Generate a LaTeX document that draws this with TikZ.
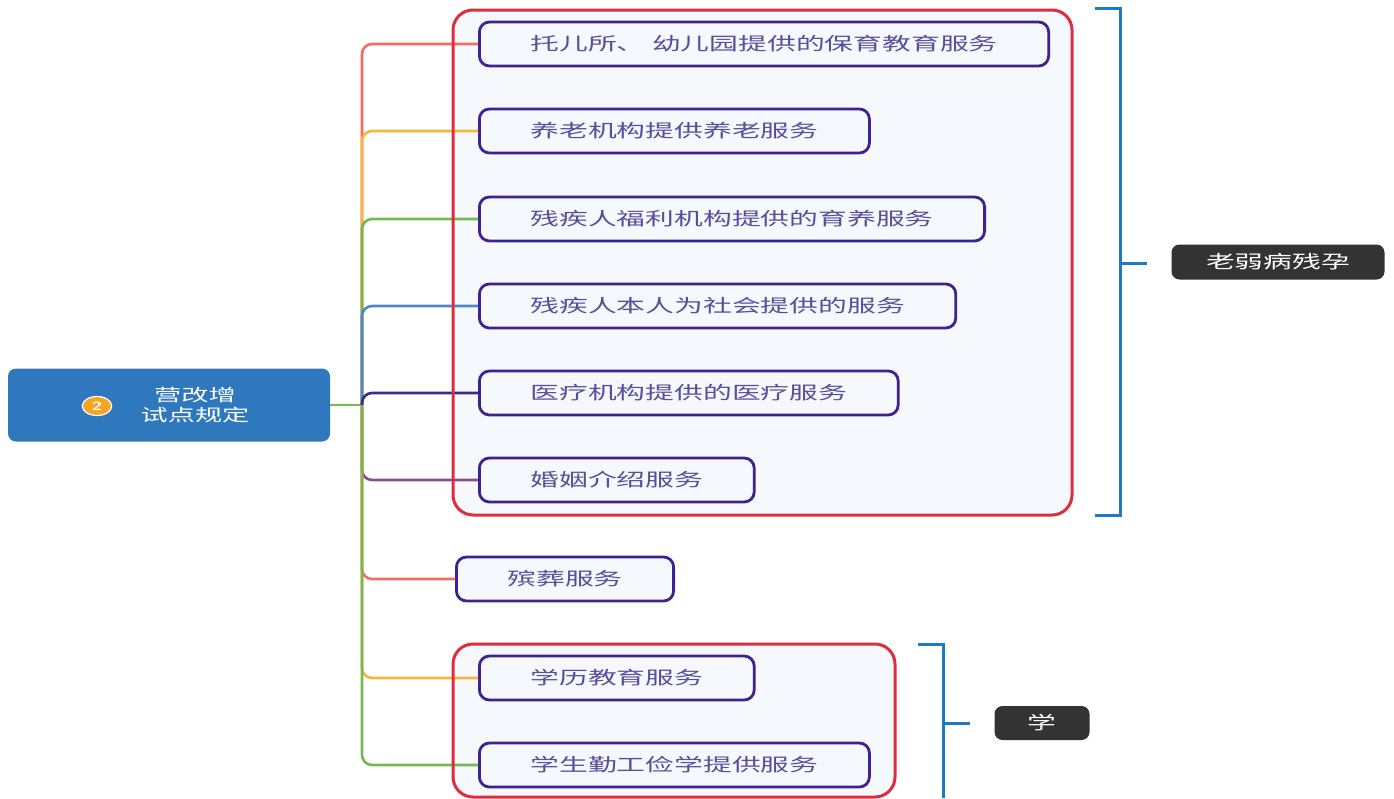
\documentclass[tikz,border=0pt]{standalone}
\usepackage{fontspec}
\usepackage{xcolor}
\usepackage{tikz}
\newfontfamily\cjk[FakeStretch=1.6]{Noto Sans CJK SC}

\definecolor{salmon}{HTML}{F36C5E}
\definecolor{amber}{HTML}{F7B53F}
\definecolor{leaf}{HTML}{74B94F}
\definecolor{sky}{HTML}{4D86C9}
\definecolor{indigo}{HTML}{3A2B8A}
\definecolor{plum}{HTML}{8A4B93}
\definecolor{groupred}{HTML}{DD2E3D}
\definecolor{paper}{HTML}{F5F8FC}
\definecolor{itemline}{HTML}{3D2290}
\definecolor{itemtext}{HTML}{5A4E9C}
\definecolor{rootblue}{HTML}{2F78BE}
\definecolor{bracketblue}{HTML}{1F7AC4}
\definecolor{badgeorange}{HTML}{F5A524}
\definecolor{tagdark}{HTML}{333333}

\tikzset{
  item/.style={draw=itemline, line width=2.8pt, fill=paper, rounded corners=10pt,
    anchor=west, minimum height=44pt, inner xsep=51pt, text=itemtext,
    font=\cjk\fontsize{18}{20}\selectfont},
  branch/.style={line width=2.6pt, rounded corners=10pt},
  tagbox/.style={fill=tagdark, rounded corners=8pt, text=white,
    font=\cjk\fontsize{18}{20}\selectfont},
  bracket/.style={draw=bracketblue, line width=3pt}
}

\begin{document}
\begin{tikzpicture}[x=1pt,y=-1pt]
    \useasboundingbox (0,0) rectangle (1394,798);

    % Group backgrounds
    \fill[paper, rounded corners=20pt] (453,10) rectangle (1072,515);
    \fill[paper, rounded corners=20pt] (453,644) rectangle (895,797);

    % Root topic
    \node[fill=rootblue, rounded corners=8pt, minimum width=322pt, minimum height=73pt] (root) at (169,405) {};
    \node[circle, fill=badgeorange, draw=white, line width=1.2pt, inner sep=0pt, minimum size=19pt,
      xscale=1.55, transform shape,
      text=white, font=\sffamily\bfseries\fontsize{12}{12}\selectfont] (badge) at (97,406) {2};
    \node[align=center, text=white, font=\cjk\fontsize{17}{19}\selectfont] (rootlabel) at (195,405) {营改增\\[1pt]试点规定};
    \coordinate (hub) at (362,405);

    % Subtopics
    \node[item] (c1) at (478,44) {托儿所、 幼儿园提供的保育教育服务};
    \node[item] (c2) at (478,131) {养老机构提供养老服务};
    \node[item] (c3) at (478,219) {残疾人福利机构提供的育养服务};
    \node[item] (c4) at (478,306) {残疾人本人为社会提供的服务};
    \node[item] (c5) at (478,393) {医疗机构提供的医疗服务};
    \node[item] (c6) at (478,480) {婚姻介绍服务};
    \node[item] (c7) at (455,579) {殡葬服务};
    \node[item] (c8) at (478,678) {学历教育服务};
    \node[item] (c9) at (478,765) {学生勤工俭学提供服务};

    % Branches
    \draw[branch, leaf] (root.east) -- (hub);
    \foreach \n/\c in {1/salmon,2/amber,3/leaf,4/sky,5/indigo,6/plum,7/salmon,8/amber,9/leaf}
      \draw[branch, \c] (hub) |- (c\n.west);

    % Group borders
    \draw[groupred, line width=3pt, rounded corners=20pt] (453,10) rectangle (1072,515);
    \draw[groupred, line width=3pt, rounded corners=20pt] (453,644) rectangle (895,797);

    % Brackets with summary tags
    \draw[bracket] (1095,8) -- (1120,8) -- (1120,515) -- (1095,515);
    \draw[bracket] (1120,263) -- (1147,263) coordinate (tick1);
    \node[tagbox, minimum width=213pt, minimum height=35pt] (tag1) at (1278,262) {老弱病残孕};

    \draw[bracket] (918,644) -- (943,644) -- (943,798);
    \draw[bracket] (943,723) -- (970,723) coordinate (tick2);
    \node[tagbox, minimum width=95pt, minimum height=34pt] (tag2) at (1042,723) {学};

\end{tikzpicture}
\end{document}
